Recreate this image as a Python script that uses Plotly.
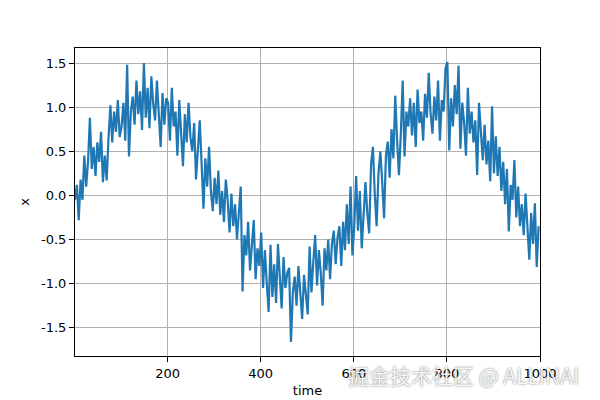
import plotly.graph_objects as go

time = list(range(1, 1001, 4))

x_vals = [
    # t = 1 .. 97
    -0.05, 0.12, -0.28, 0.18, -0.05, 0.45, 0.10, 0.38, 0.88, 0.30, 0.55, 0.22, 0.60,
    0.38, 0.72, 0.15, 0.45, 0.17, 0.65, 1.02, 0.60, 0.95, 0.72, 1.08, 0.66,
    # t = 101 .. 197
    0.78, 1.05, 0.62, 1.48, 0.44, 0.95, 1.12, 0.80, 1.30, 0.92, 1.18, 0.74, 1.50,
    0.88, 1.22, 0.76, 1.35, 1.04, 0.85, 1.30, 0.96, 0.55, 1.16, 0.80, 1.10,
    # t = 201 .. 297
    1.05, 0.62, 1.22, 0.78, 0.95, 0.45, 1.08, 0.70, 0.33, 0.92, 0.60, 1.05, 0.66,
    0.50, 0.82, 0.18, 0.58, 0.85, 0.36, -0.15, 0.42, 0.10, 0.55, 0.05, -0.18,
    # t = 301 .. 397
    0.20, -0.10, 0.28, -0.22, 0.05, -0.30, 0.18, -0.05, -0.42, 0.02, -0.35, -0.10, -0.50,
    -0.20, 0.10, -1.09, -0.45, -0.68, -0.30, -0.85, -0.52, -0.28, -0.95, -0.60, -0.80,
    # t = 401 .. 497
    -0.42, -1.05, -0.62, -1.00, -1.32, -0.56, -1.15, -0.78, -1.22, -0.55, -0.95, -1.28, -0.70,
    -1.05, -0.88, -0.82, -1.66, -1.10, -0.92, -1.25, -0.80, -1.08, -1.40, -0.90, -1.15,
    # t = 501 .. 597
    -1.35, -0.58, -1.10, -0.75, -0.45, -1.02, -0.62, -0.88, -1.25, -0.60, -0.85, -0.50, -0.95,
    -0.55, -0.40, -0.78, -0.48, -0.35, -0.80, -0.30, -0.62, -0.10, -0.55, 0.10, -0.68,
    # t = 601 .. 697
    -0.35, 0.22, -0.40, 0.05, -0.60, -0.15, 0.15, -0.20, -0.43, 0.35, 0.55, 0.02, -0.35,
    0.25, 0.50, 0.15, -0.26, 0.45, 0.61, 0.20, 0.75, 0.42, 1.13, 0.62, 0.23,
    # t = 701 .. 797
    0.70, 1.30, 0.44, 0.95, 0.78, 1.10, 0.68, 1.05, 0.55, 1.20, 0.82, 0.95, 0.62,
    1.15, 0.88, 1.39, 0.92, 0.70, 1.12, 0.85, 1.30, 0.62, 1.08, 0.95, 1.44,
    # t = 801 .. 897
    1.51, 0.51, 1.10, 0.78, 1.25, 0.92, 1.47, 0.53, 1.05, 0.82, 0.45, 1.22, 0.70,
    0.95, 0.60, 0.85, 0.23, 1.05, 0.65, 0.40, 0.80, 0.35, 0.62, 0.16, 1.01,
    # t = 901 .. 997
    0.25, 0.67, 0.22, 0.55, 0.05, 0.38, -0.10, 0.30, -0.41, 0.12, -0.05, 0.40, -0.25,
    0.10, -0.35, -0.10, -0.45, 0.02, -0.30, -0.73, -0.20, -0.55, -0.09, -0.81, -0.35,
]

x_ticks = [200, 400, 600, 800, 1000]
y_ticks = [-1.5, -1.0, -0.5, 0.0, 0.5, 1.0, 1.5]
y_tick_labels = ["-1.5", "-1.0", "-0.5", "0.0", "0.5", "1.0", "1.5"]

fig = go.Figure()
fig.add_trace(go.Scatter(
    x=time, y=x_vals, mode="lines",
    line=dict(color="#1f77b4", width=2.2),
    showlegend=False,
))

axis_common = dict(
    showline=True, linecolor="black", linewidth=1, mirror=True,
    ticks="outside", ticklen=5, tickcolor="black", tickwidth=1,
    showgrid=True, gridcolor="#b0b0b0", gridwidth=1,
    zeroline=False, automargin=False,
    tickfont=dict(family="DejaVu Sans", size=13, color="black"),
)

fig.update_xaxes(
    range=[1, 1000], tickvals=x_ticks,
    title=dict(text="time", font=dict(family="DejaVu Sans", size=13, color="black"), standoff=6),
    **axis_common,
)
fig.update_yaxes(
    range=[-1.82, 1.67], tickvals=y_ticks, ticktext=y_tick_labels,
    title=dict(text="x", font=dict(family="DejaVu Sans", size=13, color="black"), standoff=8),
    **axis_common,
)

fig.add_annotation(
    text="掘金技术社区 @ ALLINAI",
    xref="paper", yref="paper", x=1.0, y=-0.062, xanchor="left", yanchor="middle",
    xshift=-194,
    showarrow=False,
    font=dict(family="Noto Sans CJK SC", size=21, color="rgba(255,255,255,0.92)",
              shadow="0px 0px 2px rgba(0,0,0,0.65)"),
)

# the page places the figure 8px from the top-left corner, so margins compensate
fig.update_layout(
    width=600, height=400,
    margin=dict(l=67, r=68, t=40, b=52, autoexpand=False),
    paper_bgcolor="white", plot_bgcolor="white",
)

fig.write_html("out.html")
